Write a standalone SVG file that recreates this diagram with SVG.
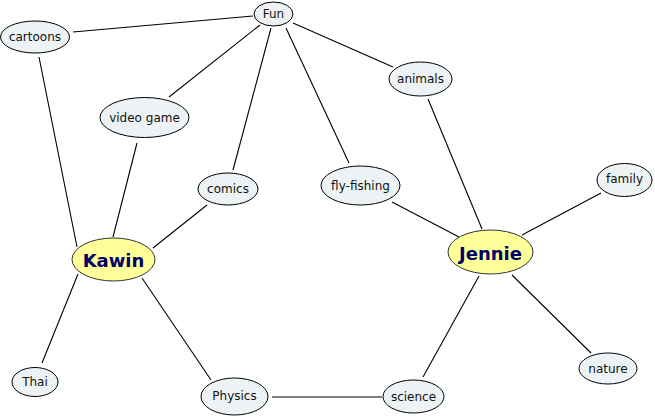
<svg xmlns="http://www.w3.org/2000/svg" width="655" height="417" viewBox="0 0 655 417">
<style>
.c line{stroke:#000;stroke-width:1.1}
.n ellipse{fill:#edf3f5;stroke:#000;stroke-width:1}
.m ellipse{fill:#ffff99;stroke:#333;stroke-width:1}
.n text{font-family:"DejaVu Sans",Verdana,sans-serif;font-size:12px;fill:#111;text-anchor:middle;dominant-baseline:central}
.m text{font-family:"DejaVu Sans",Verdana,sans-serif;font-size:18px;font-weight:bold;fill:#000066;text-anchor:middle;dominant-baseline:central}
</style>
<rect width="655" height="417" fill="#fff"/>
<g id="connectors" class="c">
<line x1="253" y1="16" x2="73" y2="32"/>
<line x1="260" y1="25" x2="169" y2="97"/>
<line x1="271" y1="28" x2="233" y2="170"/>
<line x1="286" y1="28" x2="349" y2="163"/>
<line x1="293" y1="23" x2="393" y2="67"/>
<line x1="39" y1="57" x2="77" y2="247"/>
<line x1="137" y1="143" x2="113" y2="237"/>
<line x1="207" y1="205" x2="153" y2="248"/>
<line x1="78" y1="274" x2="42" y2="363"/>
<line x1="142" y1="278" x2="211" y2="380"/>
<line x1="272" y1="397" x2="382" y2="397"/>
<line x1="428" y1="99" x2="482" y2="229"/>
<line x1="392" y1="202" x2="459" y2="237"/>
<line x1="601" y1="193" x2="522" y2="235"/>
<line x1="479" y1="276" x2="423" y2="377"/>
<line x1="512" y1="275" x2="591" y2="353"/>
</g>
<g id="fun" class="n"><ellipse cx="273.5" cy="14" rx="19.5" ry="12"/><text x="273.5" y="14">Fun</text></g>
<g id="cartoons" class="n"><ellipse cx="35" cy="37" rx="34.5" ry="16"/><text x="35" y="37">cartoons</text></g>
<g id="video-game" class="n"><ellipse cx="144.5" cy="117.5" rx="44.5" ry="20"/><text x="144.5" y="117.5">video game</text></g>
<g id="comics" class="n"><ellipse cx="228" cy="189" rx="30" ry="16"/><text x="228" y="189">comics</text></g>
<g id="animals" class="n"><ellipse cx="420.5" cy="79" rx="31.5" ry="17"/><text x="420.5" y="79">animals</text></g>
<g id="fly-fishing" class="n"><ellipse cx="360.5" cy="185.5" rx="39.5" ry="19.5"/><text x="360.5" y="185.5">fly-fishing</text></g>
<g id="family" class="n"><ellipse cx="624.5" cy="180" rx="27.5" ry="16.5"/><text x="624.5" y="179">family</text></g>
<g id="kawin" class="m"><ellipse cx="113.5" cy="259.5" rx="41.5" ry="21.5"/><text x="113.5" y="260">Kawin</text></g>
<g id="jennie" class="m"><ellipse cx="490.5" cy="252" rx="42.5" ry="22"/><text x="490.5" y="253">Jennie</text></g>
<g id="thai" class="n"><ellipse cx="35" cy="382" rx="23" ry="14.5"/><text x="35" y="382">Thai</text></g>
<g id="physics" class="n"><ellipse cx="234.5" cy="396.5" rx="33.5" ry="18.5"/><text x="234.5" y="396">Physics</text></g>
<g id="science" class="n"><ellipse cx="413.5" cy="396.5" rx="30.5" ry="16.5"/><text x="413.5" y="397">science</text></g>
<g id="nature" class="n"><ellipse cx="608" cy="368.5" rx="29" ry="15.5"/><text x="608" y="369">nature</text></g>
</svg>
